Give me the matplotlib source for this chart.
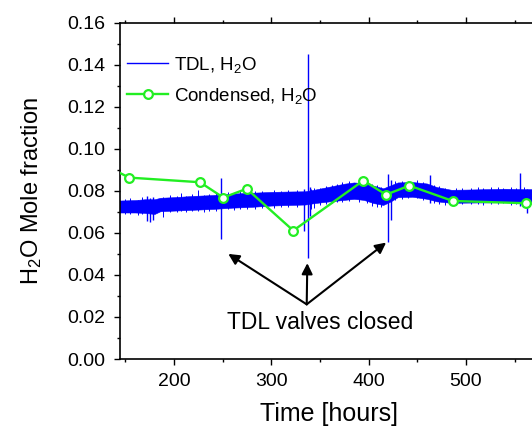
import matplotlib
matplotlib.use("Agg")
import matplotlib.pyplot as plt
from matplotlib.lines import Line2D
from matplotlib.ticker import MultipleLocator, FixedLocator, FormatStrFormatter

plt.rcParams['font.family'] = ['Liberation Sans', 'DejaVu Sans']
plt.rcParams['mathtext.fontset'] = 'custom'
plt.rcParams['mathtext.rm'] = 'Liberation Sans'
plt.rcParams['mathtext.it'] = 'Liberation Sans:italic'

# ---- TDL H2O signal: envelope of the dense noisy trace
tdl_hours = [144, 160, 170, 180, 186, 200, 220, 240, 260, 280, 300, 320, 335,
             345, 360, 375, 385, 395, 405, 415, 422, 430, 445, 460, 470, 485, 500,
             520, 540, 560, 600]
tdl_low = [0.0697, 0.0697, 0.0695, 0.0690, 0.0703, 0.0706, 0.0710, 0.0714, 0.0720,
           0.0724, 0.0730, 0.0733, 0.0735, 0.0742, 0.0750, 0.0757, 0.0762, 0.0757,
           0.0742, 0.0733, 0.0748, 0.0770, 0.0772, 0.0762, 0.0750, 0.0743, 0.0744,
           0.0745, 0.0746, 0.0744, 0.0744]
tdl_high = [0.0754, 0.0756, 0.0760, 0.0760, 0.0767, 0.0770, 0.0776, 0.0780, 0.0787,
            0.0791, 0.0795, 0.0797, 0.0798, 0.0806, 0.0820, 0.0834, 0.0840, 0.0836,
            0.0825, 0.0812, 0.0825, 0.0840, 0.0842, 0.0835, 0.0818, 0.0805, 0.0806,
            0.0808, 0.0810, 0.0808, 0.0808]

# small noise excursions at the band edges (hour, low, high)
noise_hours = [150, 155, 163, 167, 189, 196, 203, 207, 212, 218, 224.7, 231, 236, 243,
               255, 262, 268, 275, 283, 290, 303, 310, 317, 326, 341, 344, 350, 356,
               362, 368, 373, 380, 390, 398, 403, 409, 413, 427, 434, 440, 450, 456,
               467, 472, 478, 490, 496, 505, 512, 518, 526, 533, 538, 546, 551, 560]
noise_low = [0.0688, 0.0692, 0.0685, 0.0690, 0.0676, 0.0698, 0.0700, 0.0704, 0.0698,
             0.0702, 0.0706, 0.0700, 0.0706, 0.0706, 0.0712, 0.0708, 0.0714, 0.0712,
             0.0716, 0.0718, 0.0720, 0.0722, 0.0724, 0.0722, 0.0715, 0.0720, 0.0732,
             0.0738, 0.0740, 0.0745, 0.0748, 0.0752, 0.0748, 0.0740, 0.0730, 0.0725,
             0.0722, 0.0755, 0.0762, 0.0765, 0.0764, 0.0758, 0.0742, 0.0738, 0.0732,
             0.0735, 0.0738, 0.0736, 0.0738, 0.0735, 0.0738, 0.0736, 0.0740, 0.0734,
             0.0738, 0.0736]
noise_high = [0.0760, 0.0764, 0.0758, 0.0770, 0.0770, 0.0778, 0.0775, 0.0790, 0.0777,
              0.0783, 0.0805, 0.0782, 0.0786, 0.0790, 0.0793, 0.0790, 0.0798, 0.0793,
              0.0800, 0.0797, 0.0802, 0.0800, 0.0806, 0.0802, 0.0808, 0.0812, 0.0815,
              0.0822, 0.0830, 0.0833, 0.0842, 0.0845, 0.0848, 0.0840, 0.0832, 0.0826,
              0.0820, 0.0845, 0.0848, 0.0846, 0.0850, 0.0844, 0.0830, 0.0822, 0.0812,
              0.0812, 0.0815, 0.0814, 0.0818, 0.0813, 0.0816, 0.0818, 0.0814, 0.0818,
              0.0815, 0.0816]

# large spikes in the TDL trace (hour, low, high)
spike_hours = [172, 175, 178, 248, 334, 337.5, 340, 420, 423, 463, 555.6, 563]
spike_low = [0.0655, 0.0650, 0.0660, 0.057, 0.061, 0.048, 0.068, 0.0555, 0.066, 0.074,
             0.073, 0.0695]
spike_high = [0.0775, 0.0765, 0.0770, 0.086, 0.081, 0.145, 0.082, 0.088, 0.085, 0.0876,
              0.0886, 0.081]

# ---- Condensed H2O samples
cond_hours = [138, 154, 226.7, 250.7, 274.7, 322.6, 394.6, 417.9, 441.9, 486.4, 561.8, 600]
cond_vals = [0.0900, 0.0863, 0.0841, 0.0768, 0.0810, 0.0611, 0.0849, 0.0782, 0.0825,
             0.0752, 0.0741, 0.0738]

# annotation
arrow_tail = (336.4, 0.026)
arrow_heads = [(255.8, 0.050), (337.0, 0.0456), (418.0, 0.0554)]
annot_text = "TDL valves closed"
annot_pos = (350, 0.0176)

x_major = [200, 300, 400, 500]
x_minor = [150, 250, 350, 450, 550]

blue = '#0000FF'
green = '#22EE22'

fig = plt.figure(figsize=(5.32, 4.29), dpi=100)
ax = fig.add_axes([119.5 / 532, 70 / 429, (538.5 - 119.5) / 532, (359 - 22.7) / 429])

ax.fill_between(tdl_hours, tdl_low, tdl_high, color=blue, lw=0.4, edgecolor=blue, zorder=2)
ax.vlines(noise_hours, noise_low, noise_high, color=blue, lw=0.7, zorder=2)
ax.vlines(spike_hours, spike_low, spike_high, color=blue, lw=1.0, zorder=2)

ax.plot(cond_hours, cond_vals, '-o', color=green, lw=1.7, ms=6.3, mfc='white',
        mec=green, mew=1.6, zorder=4)

for head in arrow_heads:
    ax.annotate('', xy=head, xytext=arrow_tail,
                arrowprops=dict(arrowstyle='-|>', color='black', lw=1.5,
                                mutation_scale=16, shrinkA=0, shrinkB=0), zorder=5)
ax.text(annot_pos[0], annot_pos[1], annot_text, ha='center', va='center', fontsize=16.5)

ax.set_xlim(144, 574.6)
ax.set_ylim(0, 0.16)
ax.xaxis.set_major_locator(FixedLocator(x_major))
ax.xaxis.set_minor_locator(FixedLocator(x_minor))
ax.yaxis.set_major_locator(MultipleLocator(0.02))
ax.yaxis.set_minor_locator(MultipleLocator(0.01))
ax.yaxis.set_major_formatter(FormatStrFormatter('%.2f'))

ax.tick_params(which='both', direction='out', top=True, right=True, width=1.0,
               labelsize=14, pad=6)
ax.tick_params(which='major', length=4)
ax.tick_params(which='minor', length=2.5)
for s in ax.spines.values():
    s.set_linewidth(1.2)

ax.set_xlabel('Time [hours]', fontsize=18, labelpad=9)
ax.set_ylabel('H$_2$O Mole fraction', fontsize=17, labelpad=17)

handles = [Line2D([], [], color=blue, lw=1.0),
           Line2D([], [], color=green, lw=1.7, marker='o', ms=6.3, mfc='white', mec=green, mew=1.6)]
ax.legend(handles, ['TDL, H$_2$O', 'Condensed, H$_2$O'], loc='upper left',
          bbox_to_anchor=(-0.022, 0.955), frameon=False, fontsize=13.5,
          handlelength=2.2, handletextpad=0.3, labelspacing=0.6)

fig.savefig('out.png', dpi=100)
